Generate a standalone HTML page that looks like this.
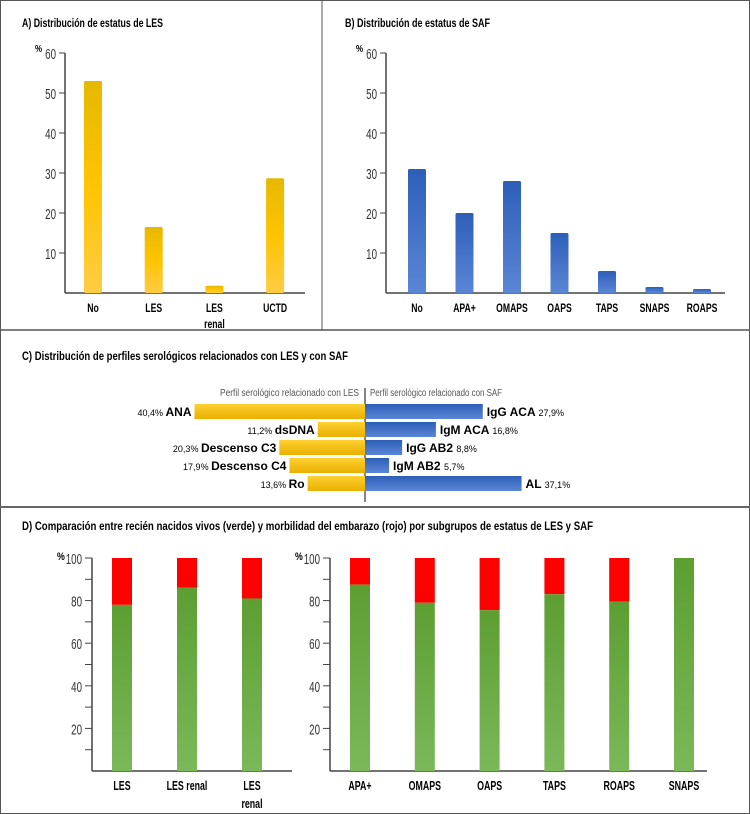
<!DOCTYPE html>
<html><head><meta charset="utf-8"><style>
html,body{margin:0;padding:0;background:#fff;}
svg{display:block;font-family:"Liberation Sans",sans-serif;}
</style></head><body>
<svg id="fig" width="750" height="814" viewBox="0 0 750 814" xmlns="http://www.w3.org/2000/svg">
<defs>
<linearGradient id="gy" x1="0" y1="0" x2="0" y2="1"><stop offset="0" stop-color="#e6b800"/><stop offset="0.5" stop-color="#ffc400"/><stop offset="1" stop-color="#ffcc44"/></linearGradient>
<linearGradient id="gyh" x1="0" y1="0" x2="0" y2="1"><stop offset="0" stop-color="#ffd030"/><stop offset="1" stop-color="#e8b000"/></linearGradient>
<linearGradient id="gb" x1="0" y1="0" x2="0" y2="1"><stop offset="0" stop-color="#2d5fb8"/><stop offset="1" stop-color="#5b86d6"/></linearGradient>
<linearGradient id="gg" x1="0" y1="0" x2="0" y2="1"><stop offset="0" stop-color="#5d9e32"/><stop offset="1" stop-color="#7bb85a"/></linearGradient>
</defs>
<rect x="0.5" y="0.5" width="749" height="813" fill="#fff" stroke="#555"/>
<line x1="322" y1="0" x2="322" y2="330" stroke="#555"/>
<line x1="0" y1="330" x2="750" y2="330" stroke="#555" stroke-width="1.5"/>
<line x1="0" y1="507" x2="750" y2="507" stroke="#666" stroke-width="2"/>
<text x="22" y="27" font-size="12" font-weight="bold" textLength="141" lengthAdjust="spacingAndGlyphs">A) Distribución de estatus de LES</text>
<text x="345" y="27" font-size="12" font-weight="bold" textLength="145" lengthAdjust="spacingAndGlyphs">B) Distribución de estatus de SAF</text>
<text x="22" y="360" font-size="12" font-weight="bold" textLength="326" lengthAdjust="spacingAndGlyphs">C) Distribución de perfiles serológicos relacionados con LES y con SAF</text>
<text x="22" y="530" font-size="12" font-weight="bold" textLength="571" lengthAdjust="spacingAndGlyphs">D) Comparación entre recién nacidos vivos (verde) y morbilidad del embarazo (rojo) por subgrupos de estatus de LES y SAF</text>
<g id="gA"></g><g id="gB"></g><g id="gC"></g><g id="gD1"></g><g id="gD2"></g>
</svg>
<script>
const aCats=["No","LES","LES\nrenal","UCTD"];
const aVals=[53,16.5,1.8,28.7];
const bCats=["No","APA+","OMAPS","OAPS","TAPS","SNAPS","ROAPS"];
const bVals=[31,20,28,15,5.5,1.5,1];
const abTicks=[10,20,30,40,50,60];
const cLeftCats=["ANA","dsDNA","Descenso C3","Descenso C4","Ro"];
const cLeftVals=[40.4,11.2,20.3,17.9,13.6];
const cLeftLabels=["40,4%","11,2%","20,3%","17,9%","13,6%"];
const cRightCats=["IgG ACA","IgM ACA","IgG AB2","IgM AB2","AL"];
const cRightVals=[27.9,16.8,8.8,5.7,37.1];
const cRightLabels=["27,9%","16,8%","8,8%","5,7%","37,1%"];
const d1Cats=["LES","LES renal","LES\nrenal"];
const d1Green=[78,86,81];
const d2Cats=["APA+","OMAPS","OAPS","TAPS","ROAPS","SNAPS"];
const d2Green=[87.5,79,75.5,83,79.5,100];
const dTicks=[20,40,60,80,100];
const NS="http://www.w3.org/2000/svg";
function mk(p,t,a){const e=document.createElementNS(NS,t);for(const k in a)e.setAttribute(k,a[k]);p.appendChild(e);return e;}
// narrow text: scaled horizontally
function ntxt(p,x,y,s,a,sx){const e=mk(p,"text",Object.assign({x:0,y:0,transform:"translate("+x+","+y+") scale("+(sx||0.72)+",1)"},a));e.textContent=s;return e;}

function barChart(g,cats,vals,x0,x1,y0,yTop,maxV,ticks,fill,name,c0,step){
  const ys=v=>y0-(v/maxV)*(y0-yTop);
  const xs=i=>c0+step*i;
  let l=mk(g,"line",{x1:x0,y1:yTop,x2:x0,y2:y0,stroke:"#444","stroke-width":1.5});
  
  
  l=mk(g,"line",{x1:x0,y1:y0,x2:x1,y2:y0,stroke:"#444","stroke-width":1.5});
  
  
  const p=ntxt(g,x0-30,yTop-1,"%",{"font-size":10,"font-weight":"bold"},0.8);
  
  
  ticks.forEach(t=>{
    const y=ys(t);
    mk(g,"line",{x1:x0-6,y1:y,x2:x0,y2:y,stroke:"#444"});
    const e=ntxt(g,x0-9,y+6,String(t),{"font-size":15,"text-anchor":"end",fill:"#333"},0.65);
    
    
  });
  cats.forEach((c,i)=>{
    const cx=xs(i),y=ys(vals[i]);
    const r=mk(g,"rect",{x:cx-9,y:y,width:18,height:y0-y,fill:fill,rx:1.5});
    
    
    c.split("\n").forEach((s,k)=>{
      const e=ntxt(g,cx,y0+19+k*16,s,{"font-size":12,"font-weight":"bold","text-anchor":"middle"},0.72);
      
      
    });
  });
}
barChart(document.getElementById("gA"),aCats,aVals,65,305,293,53,60,abTicks,"url(#gy)","chart-a",93,60.7);
barChart(document.getElementById("gB"),bCats,bVals,386,725,293,53,60,abTicks,"url(#gb)","chart-b",417,47.5);

(function(){
  const g=document.getElementById("gC");const cx=365,k=4.22,y0=404,h=15,gap=18;
  let l=mk(g,"line",{x1:cx,y1:388,x2:cx,y2:502,stroke:"#333","stroke-width":1.2});
  
  
  let t=mk(g,"text",{x:220,y:396,"font-size":10,fill:"#555",textLength:139,lengthAdjust:"spacingAndGlyphs"});
  t.textContent="Perfil serológico relacionado con LES";
  
  
  t=mk(g,"text",{x:370,y:396,"font-size":10,fill:"#555",textLength:132,lengthAdjust:"spacingAndGlyphs"});
  t.textContent="Perfil serológico relacionado con SAF";
  
  
  cLeftCats.forEach((c,i)=>{
    const y=y0+i*gap,w=cLeftVals[i]*k;
    const r=mk(g,"rect",{x:cx-w,y:y,width:w,height:h,fill:"url(#gyh)"});
    
    
    const e=mk(g,"text",{x:cx-w-3,y:y+12,"text-anchor":"end"});
    
    
    const a=mk(e,"tspan",{"font-size":9});a.textContent=cLeftLabels[i]+" ";
    const b=mk(e,"tspan",{"font-size":12,"font-weight":"bold"});b.textContent=c;
  });
  cRightCats.forEach((c,i)=>{
    const y=y0+i*gap,w=cRightVals[i]*k;
    const r=mk(g,"rect",{x:cx,y:y,width:w,height:h,fill:"url(#gb)"});
    
    
    const e=mk(g,"text",{x:cx+w+4,y:y+12});
    
    
    const b=mk(e,"tspan",{"font-size":12,"font-weight":"bold"});b.textContent=c+" ";
    const a=mk(e,"tspan",{"font-size":9});a.textContent=cRightLabels[i];
  });
})();

function stackChart(g,cats,greens,x0,x1,name,c0,step){
  const y0=771,yTop=558;const ys=v=>y0-v/100*(y0-yTop);
  let l=mk(g,"line",{x1:x0,y1:yTop,x2:x0,y2:y0,stroke:"#444","stroke-width":1.5});
  
  
  l=mk(g,"line",{x1:x0,y1:y0,x2:x1,y2:y0,stroke:"#444","stroke-width":1.5});
  
  
  const p=ntxt(g,x0-35,yTop+2,"%",{"font-size":11,"font-weight":"bold"},0.8);
  
  
  for(let v=10;v<=100;v+=10){const y=ys(v);mk(g,"line",{x1:x0-7,y1:y,x2:x0,y2:y,stroke:"#444"});}
  dTicks.forEach(t=>{
    const e=ntxt(g,x0-10,ys(t)+6,String(t),{"font-size":15,"text-anchor":"end",fill:"#333"},0.65);
    
    
  });
  cats.forEach((c,i)=>{
    const cx=c0+step*i;const yg=ys(greens[i]);
    const r=mk(g,"rect",{x:cx-10,y:ys(100),width:20,height:yg-ys(100),fill:"#ff0000"});
    
    
    const gr=mk(g,"rect",{x:cx-10,y:yg,width:20,height:y0-yg,fill:"url(#gg)"});
    
    
    c.split("\n").forEach((s,k)=>{
      const e=ntxt(g,cx,y0+19+k*18,s,{"font-size":13,"font-weight":"bold","text-anchor":"middle"},0.68);
      
      
    });
  });
}
stackChart(document.getElementById("gD1"),d1Cats,d1Green,92,292,"chart-d-les",122,65);
stackChart(document.getElementById("gD2"),d2Cats,d2Green,330,707,"chart-d-saf",360,64.8);
</script>
</body></html>
